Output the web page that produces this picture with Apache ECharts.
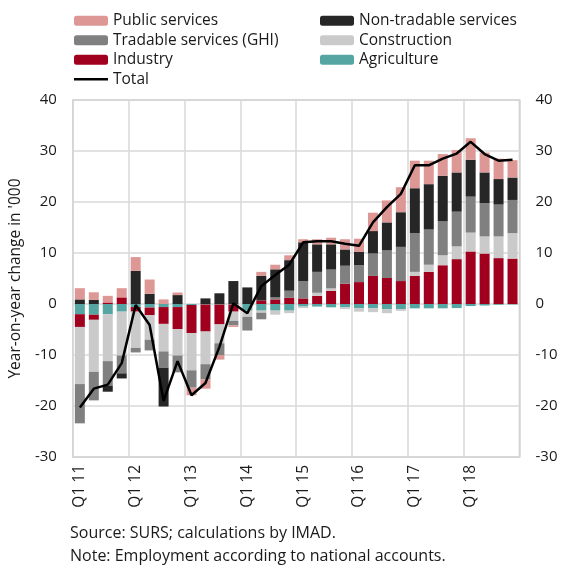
<!DOCTYPE html>
<html>
<head>
<meta charset="utf-8">
<script src="https://cdn.jsdelivr.net/npm/echarts@6/dist/echarts.min.js"></script>
<style>
  html, body { margin: 0; padding: 0; background: #fff; }
  #chart { width: 561px; height: 566px; }
</style>
</head>
<body>
<div id="chart"></div>
<script>
// Quarterly categories, Q1 2011 - Q4 2018
const categories = [
  'Q1 11','Q2 11','Q3 11','Q4 11','Q1 12','Q2 12','Q3 12','Q4 12',
  'Q1 13','Q2 13','Q3 13','Q4 13','Q1 14','Q2 14','Q3 14','Q4 14',
  'Q1 15','Q2 15','Q3 15','Q4 15','Q1 16','Q2 16','Q3 16','Q4 16',
  'Q1 17','Q2 17','Q3 17','Q4 17','Q1 18','Q2 18','Q3 18','Q4 18'
];

// Contributions to year-on-year change in employment, thousands
const agriculture = [-2.0,-2.1,-2.0,-1.5,-0.6,-0.7,-0.6,-0.6,-0.2,-0.1,-0.1,-0.1,-1.3,-1.3,-1.3,-1.3,
                     -0.5,-0.5,-0.65,-0.65,-0.85,-0.85,-1.0,-1.0,-0.85,-0.85,-0.85,-0.8,-0.4,-0.3,-0.15,-0.1];
const industry    = [-2.5,-1.0,0.3,1.3,-0.9,-1.5,-3.3,-4.3,-5.5,-5.3,-3.9,-1.4,0.0,0.7,0.9,1.2,
                     1.1,1.6,2.6,4.0,4.3,5.5,5.1,4.5,5.5,6.3,7.6,8.8,10.3,9.9,9.0,8.9];
const construction= [-11.2,-10.2,-9.2,-8.6,-7.1,-4.8,-5.4,-5.2,-7.3,-6.4,-3.7,-1.8,-1.2,-0.4,-0.8,-0.5,
                     -0.3,0.6,0.45,-0.35,-0.65,-0.75,-0.8,-0.35,0.8,1.4,1.95,2.5,3.7,3.35,4.25,5.0];
const tradable    = [-7.7,-5.6,-4.8,-3.5,-0.9,-2.1,-3.2,-3.3,-3.4,-3.0,-2.3,-0.9,-2.7,-1.3,0.4,1.4,
                     3.4,4.1,3.7,3.5,3.3,4.4,5.4,6.7,7.6,6.9,6.65,6.8,7.05,6.5,6.25,6.5];
const nonTradable = [0.9,0.8,-1.2,-1.0,6.5,2.0,-7.6,1.75,0.0,1.1,2.1,4.5,3.25,4.8,5.5,6.0,
                     7.6,5.4,4.95,3.2,2.6,4.4,5.5,6.8,8.8,8.9,8.95,7.7,7.25,6.05,5.0,4.4];
const publicServ  = [2.2,1.5,1.3,1.8,2.7,2.8,0.9,0.5,-1.5,-1.8,-0.9,-0.3,0.0,0.8,0.9,0.95,
                     0.6,1.0,1.3,2.0,2.6,3.6,4.3,4.9,5.4,4.6,4.25,4.4,4.2,3.9,4.0,3.4];
const total       = [-20.3,-16.6,-15.8,-11.6,-0.2,-4.1,-19.0,-11.2,-17.9,-15.5,-8.4,0.1,-1.8,3.5,5.7,7.7,
                     12.1,12.3,12.3,11.8,11.4,16.0,19.0,21.6,27.2,27.2,28.5,29.5,31.8,29.4,28.1,28.3];

// Value axis range
const yMin = -30, yMax = 40, yStep = 10;

const FONT = 'Open Sans';
const TXT = '#1a1a1a';
const GRID = '#d9d9d9';

const colors = {
  agriculture: '#55a6a2',
  industry: '#a0001e',
  construction: '#cacaca',
  tradable: '#808080',
  nonTradable: '#262626',
  publicServ: '#dd9896'
};

function barSeries(name, data, color) {
  return {
    name: name, type: 'bar', stack: 'emp', data: data, barWidth: 10,
    itemStyle: { color: color }, emphasis: { disabled: true }
  };
}

const chart = echarts.init(document.getElementById('chart'), null, { renderer: 'canvas' });

const legendText = { fontFamily: FONT, fontSize: 15.5, color: TXT, lineHeight: 19.5 };

chart.setOption({
  animation: false,
  textStyle: { fontFamily: FONT },
  grid: { left: 71.5, right: 41.5, top: 100, bottom: 109, show: true, borderColor: '#c4c4c4', borderWidth: 1.5 },
  legend: [
    {
      left: 69, top: 6, orient: 'vertical', itemWidth: 34, itemHeight: 10, itemGap: 0,
      data: ['Public services', 'Tradable services (GHI)', 'Industry'],
      textStyle: legendText, selectedMode: false
    },
    {
      left: 315, top: 6, orient: 'vertical', itemWidth: 34, itemHeight: 10, itemGap: 0,
      data: ['Non-tradable services', 'Construction', 'Agriculture'],
      textStyle: legendText, selectedMode: false
    },
    {
      left: 69, top: 64.5, orient: 'vertical', itemWidth: 34, itemHeight: 2.5, itemGap: 0,
      data: [{ name: 'Total', icon: 'rect' }],
      textStyle: legendText, selectedMode: false
    }
  ],
  xAxis: {
    type: 'category', data: categories, boundaryGap: true,
    axisLine: { show: false }, axisTick: { show: false },
    axisLabel: { interval: 3, rotate: 90, fontSize: 15.5, color: TXT, margin: 8, fontFamily: FONT },
    splitLine: { show: true, interval: 3, lineStyle: { color: GRID, width: 1.5 } }
  },
  yAxis: [
    {
      type: 'value', min: yMin, max: yMax, interval: yStep, position: 'left',
      name: "Year-on-year change in '000", nameLocation: 'middle', nameGap: 48,
      nameTextStyle: { fontSize: 15.5, color: TXT, fontFamily: FONT },
      axisLabel: { fontSize: 15, color: TXT, margin: 16, fontFamily: FONT },
      axisLine: { show: false }, axisTick: { show: false },
      splitLine: { lineStyle: { color: GRID, width: 1.5 } }
    },
    {
      type: 'value', min: yMin, max: yMax, interval: yStep, position: 'right',
      axisLabel: { fontSize: 15, color: TXT, margin: 16, fontFamily: FONT },
      axisLine: { show: false }, axisTick: { show: false }, splitLine: { show: false }
    }
  ],
  series: [
    barSeries('Agriculture', agriculture, colors.agriculture),
    barSeries('Industry', industry, colors.industry),
    barSeries('Construction', construction, colors.construction),
    barSeries('Tradable services (GHI)', tradable, colors.tradable),
    barSeries('Non-tradable services', nonTradable, colors.nonTradable),
    barSeries('Public services', publicServ, colors.publicServ),
    {
      name: 'Total', type: 'line', data: total, symbol: 'none', z: 10,
      lineStyle: { color: '#000', width: 2.5 }, itemStyle: { color: '#000' },
      emphasis: { disabled: true }
    }
  ],
  graphic: [
    { type: 'text', left: 70, top: 525, style: { text: 'Source: SURS; calculations by IMAD.', font: '16px "Open Sans"', fill: TXT } },
    { type: 'text', left: 70, top: 548, style: { text: 'Note: Employment according to national accounts.', font: '16px "Open Sans"', fill: TXT } }
  ]
});
</script>
</body>
</html>
